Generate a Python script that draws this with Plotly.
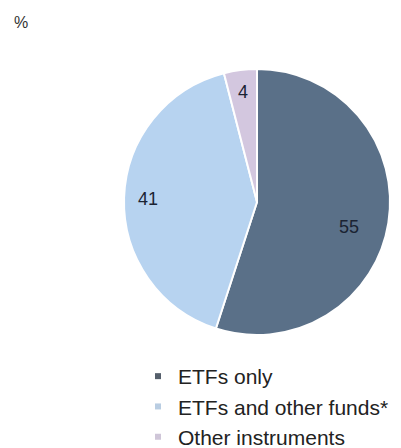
import math
import plotly.graph_objects as go

labels = ["ETFs only", "ETFs and other funds*", "Other instruments"]
values = [55, 41, 4]
colors = ["#5a7088", "#b7d3f0", "#d3c7df"]
legend_colors = ["#555f6b", "#b9cde2", "#cfc6d8"]
# label placement (fraction of radius, extra angle in degrees), like the source's "best fit"
label_radius = [0.72, 0.82, 0.83]
label_angle_shift = [6, 0, 0]

W, H = 401, 448
cx, cy, r = 257, 202, 133
FONT = "Liberation Sans, Arial, sans-serif"

fig = go.Figure()
fig.add_trace(go.Pie(
    labels=labels, values=values, sort=False, direction="clockwise", rotation=0,
    marker=dict(colors=colors, line=dict(color="white", width=2)),
    textinfo="none",
    domain=dict(x=[(cx - r) / W, (cx + r) / W], y=[1 - (cy + r) / H, 1 - (cy - r) / H]),
    showlegend=False, hoverinfo="label+value",
))

# value labels, placed from the slice angles computed from the data
total = sum(values)
cum = 0
for v, f, da in zip(values, label_radius, label_angle_shift):
    mid = (cum + v / 2) / total * 360 + da
    cum += v
    px = cx + f * r * math.sin(math.radians(mid))
    py = cy - f * r * math.cos(math.radians(mid))
    fig.add_annotation(text=str(v), x=px / W, y=1 - py / H, xref="paper", yref="paper",
                       xanchor="center", yanchor="middle", showarrow=False,
                       font=dict(family=FONT, size=18, color="#1b2333"))

for lab, col in zip(labels, legend_colors):
    fig.add_trace(go.Scatter(
        x=[None], y=[None], mode="markers", name=lab,
        marker=dict(symbol="square", size=6, color=col),
    ))

fig.add_annotation(text="%", x=12 / W, y=1 - 12 / H, xref="paper", yref="paper",
                   xanchor="left", yanchor="top", showarrow=False,
                   font=dict(family=FONT, size=16, color="#333333"))

fig.update_layout(
    width=W, height=H, margin=dict(l=0, r=0, t=0, b=0, autoexpand=False),
    paper_bgcolor="white", plot_bgcolor="white",
    xaxis=dict(visible=False), yaxis=dict(visible=False),
    legend=dict(x=138 / W, y=-9 / H, xanchor="left", yanchor="bottom",
                font=dict(family=FONT, size=21, color="#222222"),
                tracegroupgap=0, itemwidth=30, bgcolor="rgba(0,0,0,0)"),
)
fig.write_html("out.html")
